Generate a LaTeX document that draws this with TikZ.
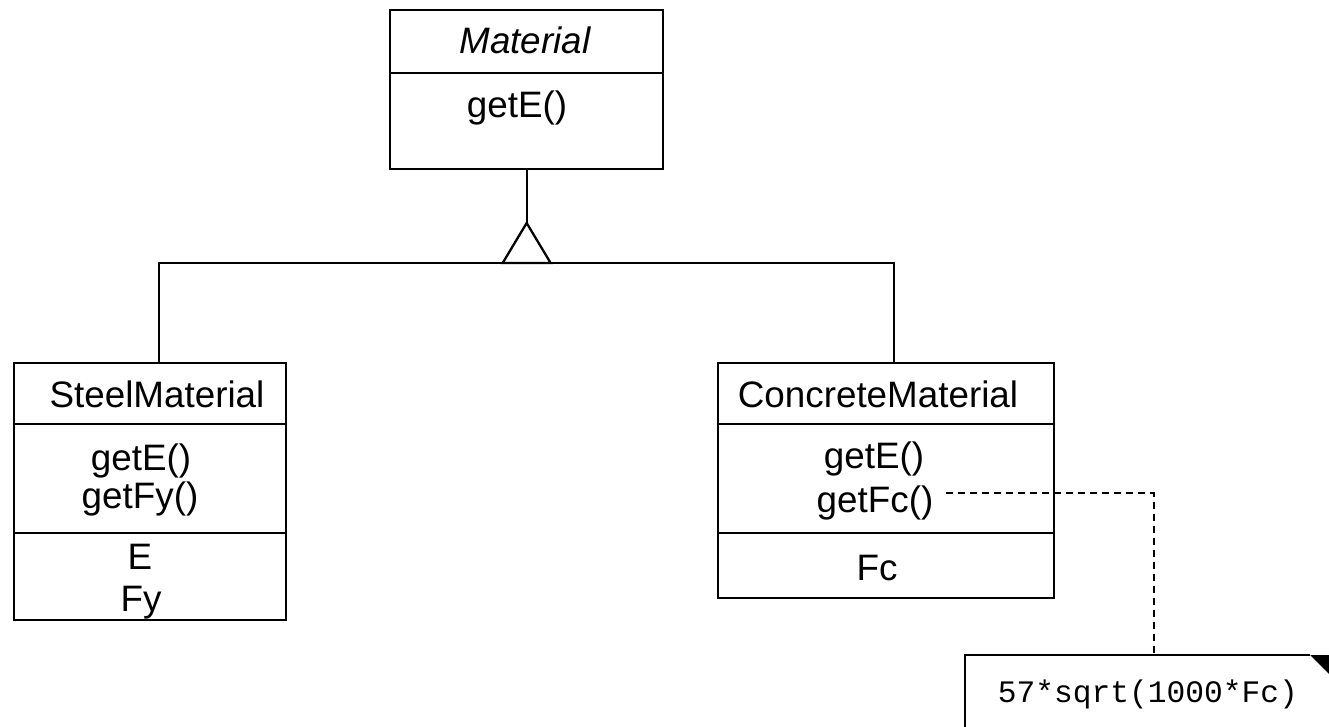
\documentclass[tikz,border=0pt]{standalone}
\usepackage{fontspec}
\setmainfont{Liberation Sans}
\newfontfamily\notefont{Liberation Mono}
\begin{document}
\begin{tikzpicture}[x=1pt,y=-1pt,
  line width=2.3pt,
  classbox/.style={draw=black, line width=2.3pt, inner sep=0pt, anchor=north west},
  lbl/.style={inner sep=0pt, anchor=base, font=\fontsize{36.8}{40}\selectfont},
  notetext/.style={inner sep=0pt, anchor=base, font=\notefont\fontsize{31.25}{34}\selectfont},
  link/.style={draw=black, line width=2.3pt},
  noteline/.style={draw=black, line width=2pt, dash pattern=on 7pt off 5pt}
]
\useasboundingbox (0,0) rectangle (1329,726);
\clip (0,0) rectangle (1329,726);

% abstract base class
\node[classbox, minimum width=273pt, minimum height=159pt] (mat) at (389,9) {};
\draw (mat.west |- 0,73) -- (mat.east |- 0,73);
\node[lbl] (matname) at (525,53) {\itshape Material};
\node[lbl] (matgete) at (517,117) {getE()};

% steel subclass
\node[classbox, minimum width=272pt, minimum height=257pt] (steel) at (13,362) {};
\draw (steel.west |- 0,424) -- (steel.east |- 0,424);
\draw (steel.west |- 0,533) -- (steel.east |- 0,533);
\node[lbl] (steelname) at (157,407) {SteelMaterial};
\node[lbl] (steelgete) at (141,470) {getE()};
\node[lbl] (steelgetfy) at (140,508) {getFy()};
\node[lbl] (steele) at (140,569) {E};
\node[lbl] (steelfy) at (141,611) {Fy};

% concrete subclass
\node[classbox, minimum width=336pt, minimum height=235pt] (conc) at (717,362) {};
\draw (conc.west |- 0,424) -- (conc.east |- 0,424);
\draw (conc.west |- 0,533) -- (conc.east |- 0,533);
\node[lbl] (concname) at (878,407) {ConcreteMaterial};
\node[lbl] (concgete) at (874,468) {getE()};
\node[lbl] (concgetfc) at (875,512) {getFc()};
\node[lbl] (concfc) at (877,580) {Fc};

% generalization: triangle and branching lines
\coordinate (apex) at (mat.south |- 0,223);
\coordinate (bar) at (mat.south |- 0,263);
\coordinate (sj) at ([xshift=9pt]steel.north);
\coordinate (cj) at ([xshift=8pt]conc.north);
\draw[link] (mat.south) -- (apex);
\draw[link, line join=miter] (apex) -- ++(-24,40) -- ++(48,0) -- cycle;
\draw[link] (sj) |- (bar) -| (cj);

% note attached to getFc()
\node[inner sep=0pt, minimum width=375pt, minimum height=85pt, anchor=north west] (note) at (965,655) {};
\coordinate (fold) at (1310,655);
\draw[line width=2.3pt] (note.south west) |- (fold);
\fill[black] (fold) -- ++(30,0) -- ++(0,30) -- cycle;
\node[notetext] (formula) at (1148,702) {57*sqrt(1000*Fc)};
\coordinate (fcend) at ([xshift=12pt,yshift=9pt]concgetfc.east);
\draw[noteline] (fcend) -| (note.north);
\end{tikzpicture}
\end{document}
